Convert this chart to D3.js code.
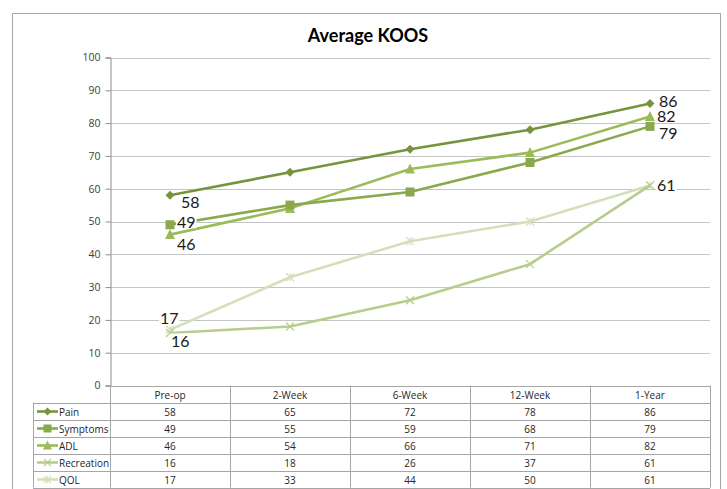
<!DOCTYPE html>
<html>
<head>
<meta charset="utf-8">
<script src="https://cdn.jsdelivr.net/npm/d3@7"></script>
<style>
  html, body { margin: 0; padding: 0; background: #fff; }
  svg { display: block; }
</style>
</head>
<body>
<svg id="chart" width="727" height="489"></svg>
<script>
// KOOS sub-scores by follow-up visit
const categories = ["Pre-op", "2-Week", "6-Week", "12-Week", "1-Year"];
const seriesNames = ["Pain", "Symptoms", "ADL", "Recreation", "QOL"];
const pain       = [58, 65, 72, 78, 86];
const symptoms   = [49, 55, 59, 68, 79];
const adl        = [46, 54, 66, 71, 82];
const recreation = [16, 18, 26, 37, 61];
const qol        = [17, 33, 44, 50, 61];
const yTicks = [0, 10, 20, 30, 40, 50, 60, 70, 80, 90, 100];

const seriesValues = [pain, symptoms, adl, recreation, qol];
const colors  = ["#77933c", "#8aa84c", "#9bbb59", "#b6cd8c", "#d3e0bb"];
const markers = ["diamond", "square", "triangle", "x", "star"];

// Data labels are shown at the first and last visit only; offsets place them around the point
const labelOffsets = {
  "Pain":       { first: [11, 6],  last: [9, -2.5] },
  "Symptoms":   { first: [7, -3],  last: [9, 6] },
  "ADL":        { first: [7, 9],   last: [7, -1.5] },
  "Recreation": { first: [1, 7],   last: [7, -1] },
  "QOL":        { first: [-10, -12], last: [7, -1] }
};

const svg = d3.select("#chart");
const plot = { left: 110, right: 710, top: 57.5, bottom: 385.5 };
const table = { left: 33, headerH: 17, rowH: 17 };

const x = d3.scaleBand().domain(categories).range([plot.left, plot.right]);
const y = d3.scaleLinear().domain([0, 100]).range([plot.bottom, plot.top]);
const cx = c => x(c) + x.bandwidth() / 2;

// chart frame
svg.append("rect")
  .attr("x", 12.5).attr("y", 13.5).attr("width", 708).attr("height", 500)
  .attr("fill", "#fff").attr("stroke", "#a6a6a6").attr("stroke-width", 1);

// title
svg.append("text")
  .attr("x", 368).attr("y", 42)
  .attr("text-anchor", "middle")
  .attr("font-family", "Lato, 'Open Sans', sans-serif")
  .attr("font-weight", "bold").attr("font-size", 18)
  .attr("fill", "#000")
  .text("Average KOOS");

// gridlines
svg.append("g")
  .selectAll("line")
  .data(yTicks.filter(t => t > 0))
  .join("line")
  .attr("x1", plot.left).attr("x2", plot.right)
  .attr("y1", d => Math.round(y(d)) + 0.5).attr("y2", d => Math.round(y(d)) + 0.5)
  .attr("stroke", "#c4c4c4").attr("stroke-width", 1.2);

// y axis
const yAxis = d3.axisLeft(y).tickValues(yTicks).tickSize(5).tickPadding(5);
const yg = svg.append("g").attr("transform", `translate(${plot.left + 0.5},0)`).call(yAxis);
yg.select(".domain").attr("stroke", "#8c8c8c");
yg.selectAll(".tick line").attr("stroke", "#8c8c8c");
yg.selectAll(".tick text")
  .attr("font-family", "'Open Sans', 'DejaVu Sans', sans-serif")
  .attr("font-size", 10.5).attr("fill", "#404040");

// marker shapes
function drawMarker(g, type, color, px, py, s) {
  if (type === "diamond") {
    g.append("path").attr("d", `M${px},${py - s}L${px + s},${py}L${px},${py + s}L${px - s},${py}Z`).attr("fill", color);
  } else if (type === "square") {
    g.append("rect").attr("x", px - s).attr("y", py - s).attr("width", 2 * s).attr("height", 2 * s).attr("fill", color);
  } else if (type === "triangle") {
    g.append("path").attr("d", `M${px},${py - s - 1}L${px + s + 0.5},${py + s}L${px - s - 0.5},${py + s}Z`).attr("fill", color);
  } else if (type === "x") {
    g.append("path").attr("d", `M${px - s},${py - s}L${px + s},${py + s}M${px - s},${py + s}L${px + s},${py - s}`)
      .attr("stroke", color).attr("stroke-width", 1.2).attr("fill", "none");
  } else if (type === "star") {
    g.append("path").attr("d", `M${px - s},${py - s}L${px + s},${py + s}M${px - s},${py + s}L${px + s},${py - s}M${px},${py - s}L${px},${py + s}`)
      .attr("stroke", color).attr("stroke-width", 1.2).attr("fill", "none");
  }
}
const markerSize = { diamond: 4.5, square: 4.5, triangle: 4.5, x: 4, star: 4 };

// lines and markers (lightest drawn first so darker series sit on top)
const line = d3.line().x((d, i) => cx(categories[i])).y(d => y(d));
const order = [4, 3, 2, 1, 0];
order.forEach(si => {
  const g = svg.append("g");
  g.append("path")
    .attr("d", line(seriesValues[si]))
    .attr("fill", "none").attr("stroke", colors[si]).attr("stroke-width", 2.6)
    .attr("stroke-linejoin", "round");
  seriesValues[si].forEach((v, i) => drawMarker(g, markers[si], colors[si], cx(categories[i]), y(v), markerSize[markers[si]]));
});

// data labels with white backing
const labelLayer = svg.append("g");
seriesNames.forEach((name, si) => {
  const vals = seriesValues[si];
  [["first", 0], ["last", vals.length - 1]].forEach(([key, i]) => {
    const [dx, dy] = labelOffsets[name][key];
    const px = cx(categories[i]), py = y(vals[i]);
    const lg = labelLayer.append("g");
    const t = lg.append("text")
      .attr("x", px + dx).attr("y", py + dy)
      .attr("dominant-baseline", "central")
      .attr("font-family", "Lato, 'Open Sans', sans-serif")
      .attr("font-size", 16).attr("fill", "#1a1a1a")
      .text(vals[i]);
    const bb = t.node().getBBox();
    lg.insert("rect", "text")
      .attr("x", bb.x - 1).attr("y", bb.y + 3).attr("width", bb.width + 2).attr("height", bb.height - 6)
      .attr("fill", "#fff");
  });
});

// data table
const tbl = svg.append("g");
const gridColor = "#a6a6a6";
const rowTop = r => plot.bottom + table.headerH + r * table.rowH;
const tableBottom = rowTop(seriesNames.length);

// header cells
categories.forEach(c => {
  tbl.append("text")
    .attr("x", cx(c)).attr("y", plot.bottom + table.headerH / 2 + 0.5)
    .attr("text-anchor", "middle").attr("dominant-baseline", "central")
    .attr("font-family", "'Open Sans', 'DejaVu Sans', sans-serif")
    .attr("font-size", 10).attr("fill", "#262626")
    .text(c);
});

// horizontal rules
tbl.append("line")
  .attr("x1", plot.left).attr("x2", plot.right)
  .attr("y1", Math.round(plot.bottom) + 0.5).attr("y2", Math.round(plot.bottom) + 0.5)
  .attr("stroke", gridColor);
d3.range(seriesNames.length + 1).forEach(r => {
  const yy = Math.round(rowTop(r)) + 0.5;
  tbl.append("line").attr("x1", table.left).attr("x2", plot.right)
    .attr("y1", yy).attr("y2", yy).attr("stroke", gridColor);
});

// vertical rules
tbl.append("line").attr("x1", table.left + 0.5).attr("x2", table.left + 0.5)
  .attr("y1", rowTop(0)).attr("y2", tableBottom).attr("stroke", gridColor);
categories.forEach(c => {
  const xx = Math.round(x(c) + x.bandwidth()) + 0.5;
  tbl.append("line").attr("x1", xx).attr("x2", xx)
    .attr("y1", plot.bottom).attr("y2", tableBottom).attr("stroke", gridColor);
});
tbl.append("line").attr("x1", plot.left + 0.5).attr("x2", plot.left + 0.5)
  .attr("y1", plot.bottom).attr("y2", tableBottom).attr("stroke", gridColor);

// rows: legend key + values
seriesNames.forEach((name, si) => {
  const mid = rowTop(si) + table.rowH / 2 + 0.5;
  const kg = tbl.append("g");
  kg.append("line").attr("x1", table.left + 4).attr("x2", table.left + 25)
    .attr("y1", mid).attr("y2", mid).attr("stroke", colors[si]).attr("stroke-width", 2.6);
  drawMarker(kg, markers[si], colors[si], table.left + 14.5, mid, markerSize[markers[si]] - 0.5);
  tbl.append("text")
    .attr("x", table.left + 26).attr("y", mid)
    .attr("dominant-baseline", "central")
    .attr("font-family", "'Open Sans', 'DejaVu Sans', sans-serif")
    .attr("font-size", 10).attr("fill", "#262626")
    .text(name);
  seriesValues[si].forEach((v, i) => {
    tbl.append("text")
      .attr("x", cx(categories[i])).attr("y", mid)
      .attr("text-anchor", "middle").attr("dominant-baseline", "central")
      .attr("font-family", "'Open Sans', 'DejaVu Sans', sans-serif")
      .attr("font-size", 10).attr("fill", "#262626")
      .text(v);
  });
});
</script>
</body>
</html>
